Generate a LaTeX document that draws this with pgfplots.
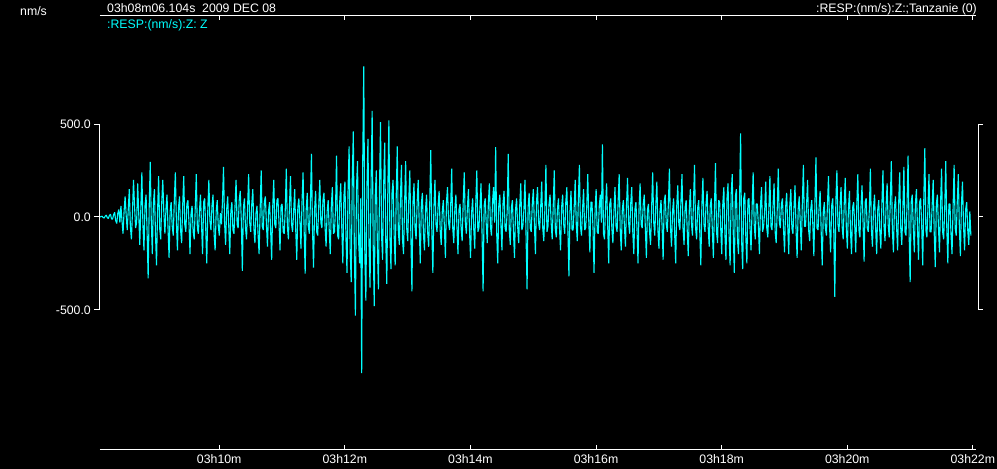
\documentclass[border=0pt]{standalone}
\usepackage{fontspec}
\setmainfont{Liberation Sans}
\usepackage{pgfplots}
\pgfplotsset{compat=1.18}
\definecolor{trace}{RGB}{0,255,255}
\pgfdeclarelayer{background}
\pgfsetlayers{background,main}
\newcommand{\lab}{\fontsize{12.3}{14}\selectfont}
\begin{document}
\begin{tikzpicture}
\begin{axis}[
  name=ax, scale only axis, width=876pt, height=433pt,
  xmin=486.1, xmax=1323, ymin=-1248, ymax=1081,
  axis background/.style={fill=black},
  separate axis lines,
  y axis line style={draw=none},
  x axis line style={white, line width=1pt},
  xtick={600,720,840,960,1080,1200,1320},
  xticklabels={03h10m,03h12m,03h14m,03h16m,03h18m,03h20m,03h22m},
  xtick pos=both, tick align=inside, major tick length=4pt,
  x tick style={white, line width=1pt},
  ytick=\empty,
  xticklabel style={white, font=\lab, inner sep=1pt, yshift=-4pt},
  clip=false,
]
% Z component, 1 s samples from 03h08m06.1s
\addplot[trace, line width=1.1pt, line join=bevel, mark=none] table[header=false, row sep=\\, x expr=486.1+\coordindex, y index=0] {
0\\2\\4\\-3\\-6\\5\\10\\-4\\-8\\8\\15\\-10\\-12\\12\\25\\-20\\-35\\20\\40\\-30\\
60\\-20\\-90\\30\\110\\10\\-70\\40\\150\\-50\\-120\\20\\200\\60\\-60\\-30\\180\\20\\-150\\40\\
240\\-40\\-180\\60\\120\\-80\\-330\\50\\296\\-20\\-200\\70\\150\\-90\\-260\\30\\220\\-60\\-120\\80\\
200\\20\\-90\\40\\120\\-60\\-220\\30\\80\\-50\\-100\\90\\240\\-30\\-180\\50\\110\\-70\\-140\\60\\
220\\-40\\-80\\70\\90\\-30\\-200\\20\\60\\-80\\-120\\50\\230\\-60\\-90\\30\\120\\-40\\-200\\80\\
100\\-60\\-250\\40\\200\\-20\\-70\\60\\120\\-90\\-180\\30\\90\\-50\\-100\\20\\-40\\80\\270\\-30\\
-150\\40\\110\\-50\\-200\\30\\80\\-70\\-90\\60\\200\\-40\\-60\\90\\140\\-20\\-290\\50\\100\\-60\\
-120\\50\\230\\-30\\-80\\70\\150\\-60\\-140\\20\\60\\-90\\-200\\40\\250\\-50\\-70\\80\\110\\-40\\
-160\\30\\80\\-70\\-230\\50\\200\\-40\\-60\\90\\100\\-30\\-180\\60\\70\\-80\\-90\\40\\260\\-50\\
-120\\60\\220\\-40\\-80\\30\\150\\-70\\-230\\50\\100\\-20\\-170\\80\\240\\-60\\-305\\40\\130\\-50\\
-90\\70\\340\\-60\\-272\\40\\140\\-80\\-100\\60\\200\\-30\\-60\\90\\130\\-50\\-160\\30\\90\\-70\\
-200\\60\\160\\-90\\-80\\40\\330\\-100\\-120\\80\\180\\-60\\-250\\110\\190\\-120\\-300\\150\\380\\-180\\
-350\\200\\460\\-180\\-530\\150\\300\\-120\\-250\\100\\-840\\300\\810\\-200\\-450\\160\\420\\-150\\-380\\180\\
570\\-150\\-480\\120\\250\\-160\\-390\\140\\510\\-100\\-230\\170\\400\\-130\\-360\\150\\520\\-110\\-280\\130\\
200\\-90\\-260\\110\\380\\-80\\-150\\100\\280\\-120\\-200\\70\\300\\-60\\-130\\90\\250\\-100\\-400\\80\\
180\\-60\\-120\\80\\200\\-50\\-250\\70\\130\\-90\\-180\\40\\120\\-80\\-160\\60\\360\\-70\\-300\\50\\
200\\-40\\-80\\60\\140\\-70\\-150\\30\\90\\-50\\-220\\80\\160\\-30\\-70\\50\\260\\-60\\-140\\40\\
120\\-50\\-200\\40\\70\\-60\\-130\\80\\240\\-30\\-90\\50\\150\\-70\\-220\\20\\100\\-60\\-170\\70\\
250\\-80\\-60\\50\\180\\-90\\-400\\60\\100\\-40\\-140\\70\\180\\-50\\-100\\80\\160\\-30\\375\\-90\\
-250\\60\\120\\-40\\-180\\70\\140\\-60\\-80\\30\\340\\-70\\-150\\50\\90\\-80\\-220\\40\\100\\-50\\
-140\\60\\180\\-70\\-50\\40\\200\\-90\\-390\\50\\130\\-60\\-80\\70\\150\\-40\\-200\\80\\160\\-30\\
-70\\50\\190\\-60\\-130\\40\\280\\-80\\-50\\70\\120\\-30\\-120\\60\\250\\-70\\-110\\40\\100\\-60\\
-180\\50\\120\\-40\\-90\\80\\160\\-60\\-320\\30\\140\\-70\\-70\\50\\200\\-40\\-130\\90\\280\\-50\\
-100\\40\\150\\-70\\-60\\50\\230\\-30\\-190\\80\\80\\-60\\-300\\40\\150\\-80\\-90\\60\\120\\-30\\
390\\-90\\-120\\60\\180\\-40\\-250\\70\\100\\-60\\-140\\30\\160\\-50\\-80\\80\\230\\-70\\-180\\40\\
90\\-50\\-160\\60\\210\\-30\\-90\\70\\160\\-80\\-200\\40\\80\\-60\\-250\\50\\180\\-40\\-60\\70\\
120\\-60\\-220\\40\\70\\-80\\-150\\50\\240\\-30\\-100\\60\\190\\-70\\-170\\30\\90\\-50\\-230\\80\\
120\\-40\\-80\\70\\260\\-50\\-160\\30\\100\\-90\\-250\\60\\170\\-40\\-70\\80\\230\\-60\\-150\\50\\
90\\-70\\-210\\40\\150\\-30\\-100\\80\\280\\-60\\-120\\50\\90\\-80\\-260\\60\\210\\-40\\-80\\70\\
140\\-50\\-160\\60\\100\\-70\\-220\\40\\290\\-80\\-140\\90\\80\\-60\\-200\\70\\160\\-90\\-230\\100\\
180\\-100\\-260\\120\\230\\-90\\-300\\110\\150\\-120\\-200\\80\\450\\-130\\-280\\100\\130\\-110\\-250\\90\\
100\\-60\\-180\\50\\240\\-40\\-120\\70\\70\\-50\\-200\\60\\160\\-80\\-50\\30\\190\\-60\\-110\\40\\
220\\-50\\-70\\60\\180\\-80\\-140\\40\\260\\-30\\-60\\70\\100\\-60\\-190\\50\\130\\-40\\-200\\60\\
150\\-60\\-90\\50\\170\\-70\\-220\\40\\110\\-30\\-180\\80\\280\\-50\\-50\\60\\200\\-70\\-130\\40\\
90\\-40\\-210\\70\\320\\-60\\-70\\50\\140\\-80\\-260\\30\\80\\-60\\-100\\70\\220\\-50\\-190\\60\\
100\\-70\\-430\\80\\250\\-40\\-80\\60\\160\\-50\\-120\\70\\210\\-60\\-170\\40\\140\\-80\\-200\\50\\
80\\-40\\-190\\60\\230\\-70\\-110\\50\\170\\-30\\-240\\80\\100\\-60\\-80\\40\\260\\-70\\-160\\50\\
120\\-60\\-200\\40\\90\\-80\\-170\\70\\250\\-50\\-130\\60\\180\\-40\\-110\\80\\300\\-70\\-190\\50\\
110\\-50\\-180\\70\\240\\-60\\-150\\40\\270\\-80\\-100\\60\\330\\-90\\-350\\80\\120\\-60\\-190\\70\\
150\\-60\\-230\\80\\100\\-40\\-260\\90\\370\\-70\\-110\\50\\230\\-80\\-80\\60\\200\\-90\\-270\\70\\
120\\-50\\-190\\60\\260\\-80\\-120\\40\\300\\-60\\-250\\70\\70\\-90\\-200\\50\\280\\-60\\-100\\80\\
230\\-60\\-210\\70\\190\\-50\\-180\\40\\80\\-70\\-150\\30\\-100\\
};
% amplitude scale brackets
\draw[white, line width=1pt] ([xshift=-6pt]axis cs:486.1,500) -- (axis cs:486.1,500) -- (axis cs:486.1,-500) -- ([xshift=-6pt]axis cs:486.1,-500);
\draw[white, line width=1pt] ([xshift=-6pt]axis cs:486.1,0) -- (axis cs:486.1,0);
\draw[white, line width=1pt] ([xshift=7pt]axis cs:1323,500) -- ([xshift=2pt]axis cs:1323,500) -- ([xshift=2pt]axis cs:1323,-500) -- ([xshift=7pt]axis cs:1323,-500);
\draw[white, line width=1pt] ([xshift=2pt]axis cs:1323,0) -- ([xshift=7pt]axis cs:1323,0);
\node[white, font=\lab, anchor=east, inner sep=0pt] at ([xshift=-9pt]axis cs:486.1,500) {500.0};
\node[white, font=\lab, anchor=east, inner sep=0pt] at ([xshift=-9pt]axis cs:486.1,0) {0.0};
\node[white, font=\lab, anchor=east, inner sep=0pt] at ([xshift=-9pt]axis cs:486.1,-500) {-500.0};
% header texts
\node[white, font=\lab, anchor=base west, inner sep=0pt] at ([xshift=-80pt,yshift=0pt]rel axis cs:0,1) {nm/s};
\node[white, font=\lab, anchor=base west, inner sep=0pt] at ([xshift=7pt,yshift=3.3pt]rel axis cs:0,1) {03h08m06.104s\ \ 2009 DEC 08};
\node[trace, font=\lab, anchor=base west, inner sep=0pt] at ([xshift=7pt,yshift=-12.7pt]rel axis cs:0,1) {:RESP:(nm/s):Z: Z};
\node[white, font=\lab, anchor=base east, inner sep=0pt] at ([xshift=1pt,yshift=3.3pt]rel axis cs:1,1) {:RESP:(nm/s):Z:;Tanzanie (0)};
\end{axis}
\pgfresetboundingbox
\begin{pgfonlayer}{background}
\fill[black] ([xshift=-100pt,yshift=16pt]ax.north west) rectangle ([xshift=21pt,yshift=-20pt]ax.south east);
\end{pgfonlayer}
\path[use as bounding box] ([xshift=-100pt,yshift=16pt]ax.north west) rectangle ([xshift=21pt,yshift=-20pt]ax.south east);
\end{tikzpicture}
\end{document}
